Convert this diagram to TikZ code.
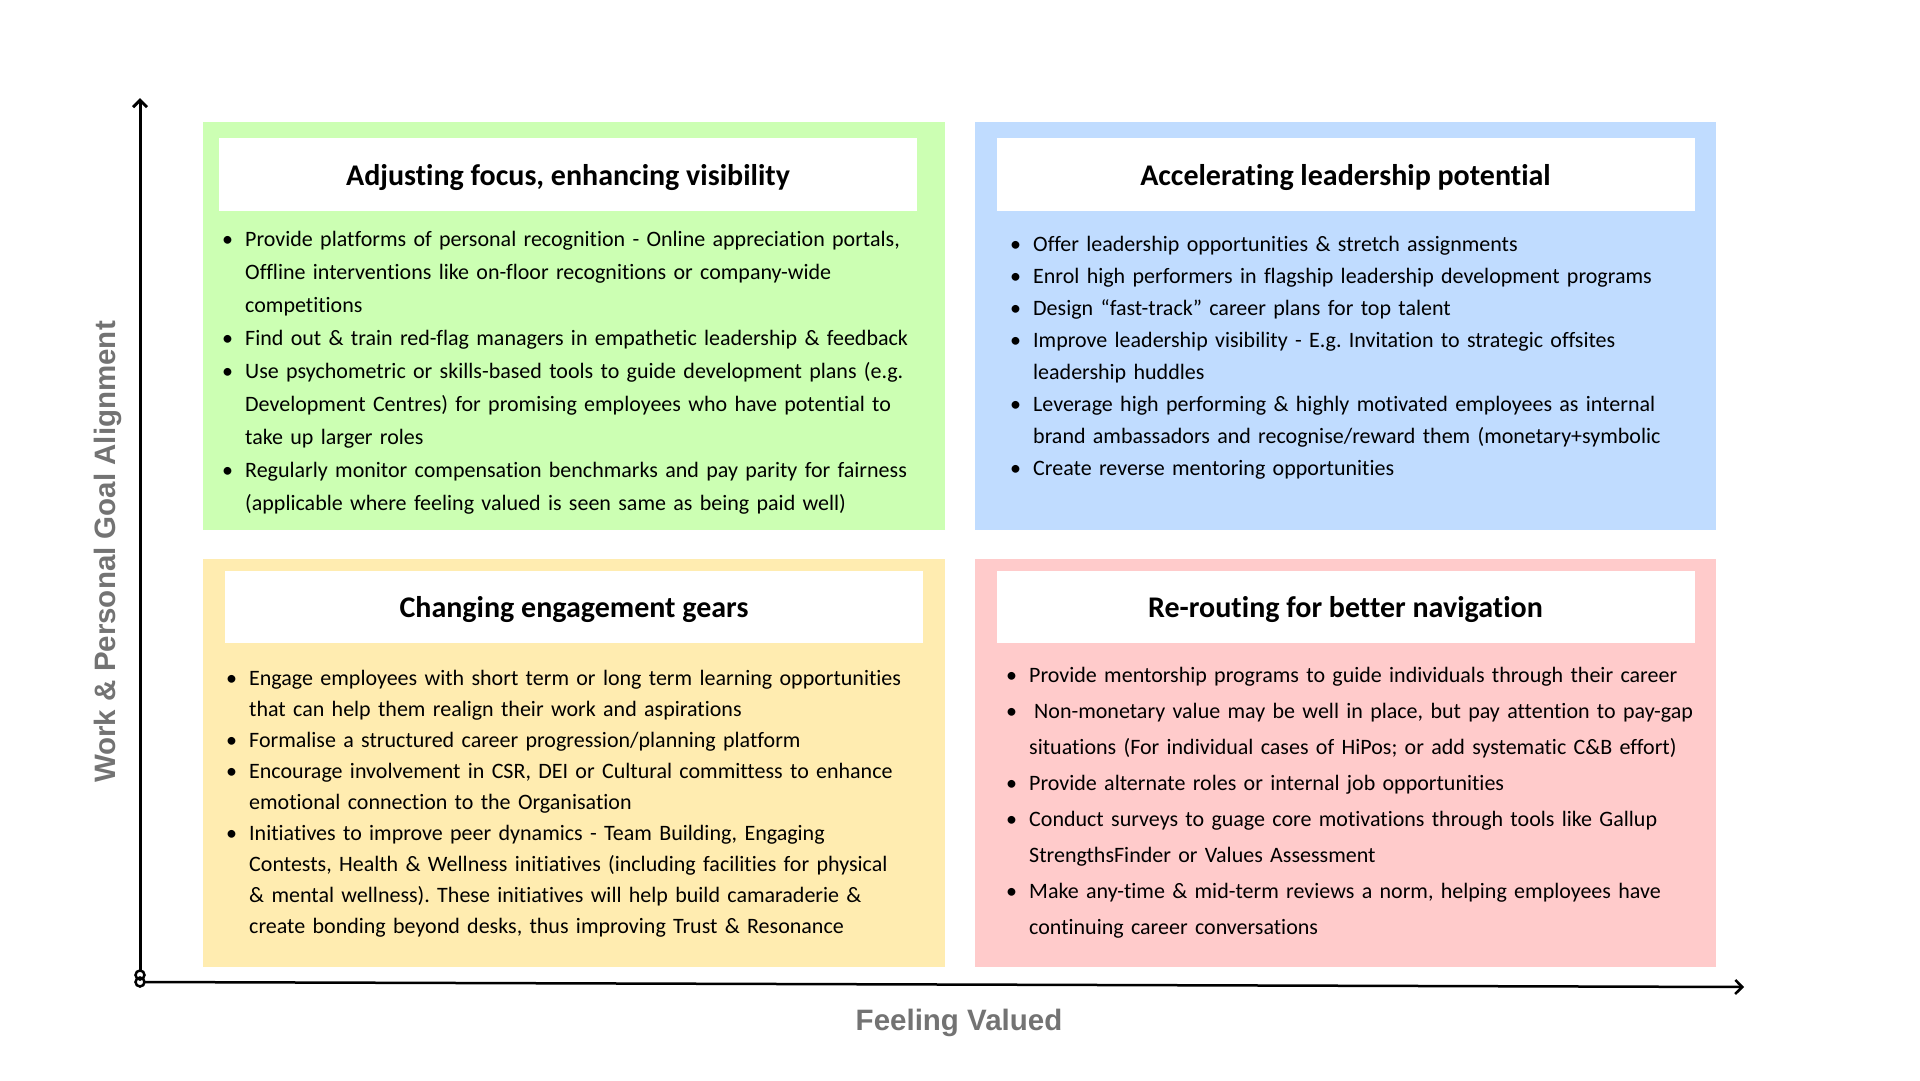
\documentclass[tikz,border=0pt]{standalone}
\usepackage{fontspec}
\setmainfont{Carlito}[Ligatures={NoCommon}]
\newfontfamily\axisfont{Liberation Sans}
\usetikzlibrary{arrows.meta}

\definecolor{qgreen}{RGB}{204,255,179}
\definecolor{qblue}{RGB}{192,220,255}
\definecolor{qyellow}{RGB}{255,236,176}
\definecolor{qpink}{RGB}{255,203,203}
\definecolor{axisgray}{RGB}{115,115,115}

\newlength\qind
\setlength\qind{23pt}
\newcommand\qitem[1]{\hangindent=\qind\hangafter=1\makebox[\qind][l]{\textbullet}#1\par}

\begin{document}
\frenchspacing
\begin{tikzpicture}[x=1pt, y=-1pt,
  qtitle/.style={fill=white, minimum width=698pt, minimum height=73pt, inner sep=0pt,
    text depth=0pt, font=\bfseries\fontsize{30}{34}\selectfont},
  qbody/.style={anchor=base west, inner sep=0pt, text width=760pt,
    font=\fontsize{22}{#1}\selectfont\raggedright},
  axislabel/.style={text=axisgray, font=\axisfont\bfseries\fontsize{29.5}{34}\selectfont},
  axisline/.style={line width=3pt, -{Straight Barb[length=7pt,width=14pt]}}]
\useasboundingbox (0,0) rectangle (1920,1080);

\foreach \col/\xa/\ya/\xb/\yb in {qgreen/203/122/945/530, qblue/975/122/1716/530,
    qyellow/203/559/945/967, qpink/975/559/1716/967}
  \fill[\col] (\xa,\ya) rectangle (\xb,\yb);

\node[qtitle] (tgreen) at (568,174.5) {Adjusting focus, enhancing visibility};
\node[qtitle] (tblue) at (1345.5,174.5) {Accelerating leadership potential};
\node[qtitle, minimum height=72pt] (tyellow) at (574,607) {Changing engagement gears};
\node[qtitle, minimum height=72pt] (tpink) at (1345.5,607) {Re-routing for better navigation};

\node[qbody=33] (bgreen) at (222,246) {%
\qitem{Provide platforms of personal recognition - Online appreciation portals,\newline Offline interventions like on-floor recognitions or company-wide\newline competitions}
\qitem{Find out \& train red-flag managers in empathetic leadership \& feedback}
\qitem{Use psychometric or skills-based tools to guide development plans (e.g.\newline Development Centres) for promising employees who have potential to\newline take up larger roles}
\qitem{Regularly monitor compensation benchmarks and pay parity for fairness\newline (applicable where feeling valued is seen same as being paid well)}};

\node[qbody=32] (bblue) at (1010,251) {%
\qitem{Offer leadership opportunities \& stretch assignments}
\qitem{Enrol high performers in flagship leadership development programs}
\qitem{Design “fast-track” career plans for top talent}
\qitem{Improve leadership visibility - E.g. Invitation to strategic offsites\newline leadership huddles}
\qitem{Leverage high performing \& highly motivated employees as internal\newline brand ambassadors and recognise/reward them (monetary+symbolic}
\qitem{Create reverse mentoring opportunities}};

\node[qbody=31] (byellow) at (226,685) {%
\qitem{Engage employees with short term or long term learning opportunities\newline that can help them realign their work and aspirations}
\qitem{Formalise a structured career progression/planning platform}
\qitem{Encourage involvement in CSR, DEI or Cultural committess to enhance\newline emotional connection to the Organisation}
\qitem{Initiatives to improve peer dynamics - Team Building, Engaging\newline Contests, Health \& Wellness initiatives (including facilities for physical\newline \& mental wellness). These initiatives will help build camaraderie \&\newline create bonding beyond desks, thus improving Trust \& Resonance}};

\node[qbody=36] (bpink) at (1006,682) {%
\qitem{Provide mentorship programs to guide individuals through their career}
\qitem{\hspace{5pt}Non-monetary value may be well in place, but pay attention to pay-gap\newline situations (For individual cases of HiPos; or add systematic C\&B effort)}
\qitem{Provide alternate roles or internal job opportunities}
\qitem{Conduct surveys to guage core motivations through tools like Gallup\newline StrengthsFinder or Values Assessment}
\qitem{Make any-time \& mid-term reviews a norm, helping employees have\newline continuing career conversations}};

\coordinate (ybase) at (140,975);
\coordinate (xbase) at (140,982);
\coordinate (ytop) at (140,98);
\coordinate (xend) at (1744,987);
\draw[axisline] (ybase) -- (ytop);
\draw[axisline, line width=2.5pt] (xbase) -- (xend);
\draw[line width=2.5pt, fill=white] (ybase) circle (4.5) (xbase) circle (4.5);

\node[axislabel, rotate=90] (ylab) at (108,552) {Work \& Personal Goal Alignment};
\node[axislabel] (xlab) at (959,1023) {Feeling Valued};
\end{tikzpicture}
\end{document}
